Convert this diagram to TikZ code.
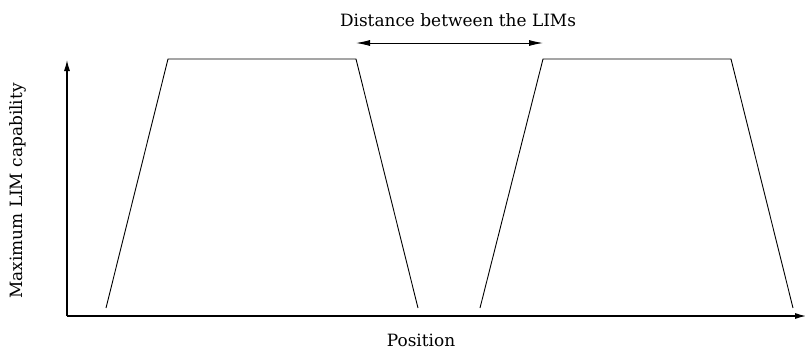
\documentclass[tikz,border=0pt]{standalone}
\usepackage{fontspec}
\setmainfont{DejaVu Serif}
\usetikzlibrary{arrows.meta}
\begin{document}
\begin{tikzpicture}[x=1bp,y=-1bp,
  lbl/.style={font=\fontsize{17}{20}\selectfont, inner sep=0pt},
  axisline/.style={line width=1.1pt},
  curve/.style={line width=0.9pt, line join=miter},
  tip/.style={-{Latex[length=11bp,width=6bp]}},
  dimtip/.style={{Latex[length=14bp,width=6bp]}-{Latex[length=14bp,width=6bp]}}]
\useasboundingbox (0,0) rectangle (805,352);
% axes
\coordinate (O) at (67,316);
\coordinate (Ytop) at (67,60);
\coordinate (Xend) at (806,316);
\draw[axisline,tip] (O) -- (Ytop);
\draw[axisline,tip] (O) -- (Xend);
% trapezoids
\coordinate (a1) at (106,308);
\coordinate (b1) at (168,59);
\coordinate (c1) at (356,59);
\coordinate (d1) at (418,308);
\coordinate (a2) at (480,308);
\coordinate (b2) at (543,59);
\coordinate (c2) at (731,59);
\coordinate (d2) at (793,308);
\draw[curve] (a1) -- (b1) -- (c1) -- (d1);
\draw[curve] (a2) -- (b2) -- (c2) -- (d2);
% distance arrow
\coordinate (p1) at (356,43);
\coordinate (p2) at (543,43);
\draw[line width=0.9pt,dimtip] (p1) -- (p2);
% labels
\node[lbl] (dist) at (458,20) {Distance between the LIMs};
\node[lbl] (pos) at (421,340) {Position};
\node[lbl,rotate=90] (ylab) at (18,191) {Maximum LIM capability};
\end{tikzpicture}
\end{document}
